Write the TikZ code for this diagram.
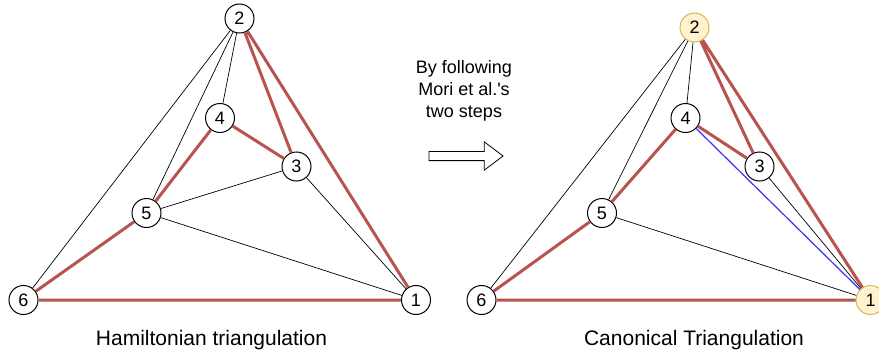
\documentclass[tikz,border=0pt]{standalone}
\usepackage{fontspec}
\newfontfamily\labelfont{Liberation Sans}
\usetikzlibrary{shapes.arrows}
\definecolor{hamred}{HTML}{B85450}
\definecolor{canonfill}{HTML}{FFF2CC}
\definecolor{canondraw}{HTML}{D6B656}
\definecolor{newblue}{HTML}{3333FF}

\begin{document}
\begin{tikzpicture}[x=1pt,y=-1pt,font=\labelfont\fontsize{18}{21.7}\selectfont]
\tikzstyle{v}=[circle,draw,fill=white,minimum size=29pt,inner sep=0pt,line width=1pt]
\tikzstyle{vy}=[v,fill=canonfill,draw=canondraw]
\tikzstyle{e}=[line width=0.7pt]
\tikzstyle{hp}=[draw=hamred,line width=3pt]
\tikzstyle{title}=[font=\labelfont\fontsize{21}{25}\selectfont]
\useasboundingbox (0,0) rectangle (879,356);
% left graph
\node[v] (h1) at (416,300) {1}; \node[v] (h2) at (239.5,18.5) {2}; \node[v] (h3) at (296.5,166.5) {3};
\node[v] (h4) at (220,118) {4}; \node[v] (h5) at (146.5,213) {5}; \node[v] (h6) at (23.5,300) {6};
\draw[e] (h2)--(h6) (h2)--(h5) (h2)--(h4) (h5)--(h3) (h5)--(h1) (h3)--(h1);
\draw[hp] (h2)--(h3) (h2)--(h1) (h4)--(h3) (h4)--(h5) (h5)--(h6) (h6)--(h1);
\node[title] (htitle) at (211.5,340.5) {Hamiltonian triangulation};
% middle
\node[align=center] (note) at (464,91) {By following\\ Mori et al.'s\\ two steps};
\node[single arrow,draw,line width=0.8pt,inner xsep=0pt,inner ysep=4.2pt,minimum height=74pt,
  single arrow head extend=9.5pt,single arrow tip angle=74] (arr) at (463,156) {};
% right graph
\node[vy] (c1) at (870.5,300) {1}; \node[vy] (c2) at (694.5,27.5) {2}; \node[v] (c3) at (759.5,166.5) {3};
\node[v] (c4) at (685.5,118) {4}; \node[v] (c5) at (602,213) {5}; \node[v] (c6) at (481.5,300) {6};
\draw[e] (c2)--(c6) (c2)--(c5) (c2)--(c4) (c5)--(c1) (c3)--(c1);
\draw[e,newblue,line width=1.2pt] (c4)--(c1);
\draw[hp] (c2)--(c3) (c2)--(c1) (c4)--(c3) (c4)--(c5) (c5)--(c6) (c6)--(c1);
\node[title] (ctitle) at (694,340.5) {Canonical Triangulation};
\end{tikzpicture}
\end{document}
